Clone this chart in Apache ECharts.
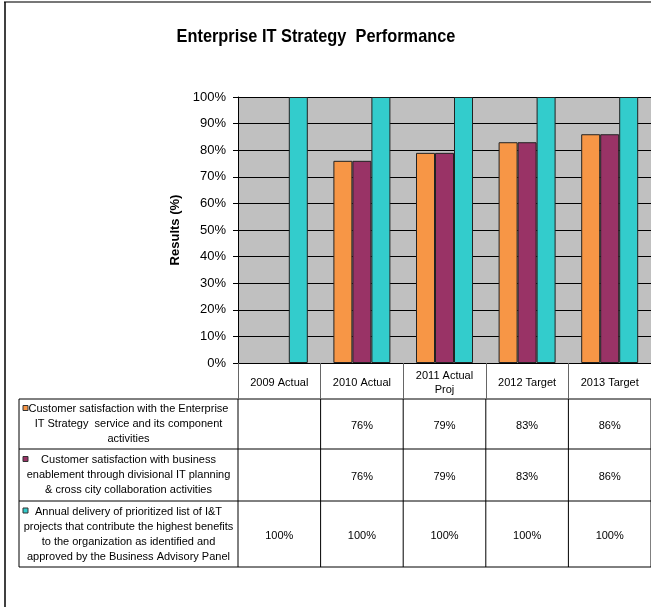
<!DOCTYPE html>
<html>
<head>
<meta charset="utf-8">
<script src="https://cdn.jsdelivr.net/npm/echarts@6/dist/echarts.min.js"></script>
<style>
  html, body { margin: 0; padding: 0; background: #fff; }
  #chart { width: 651px; height: 607px; }
</style>
</head>
<body>
<div id="chart"></div>
<script>
// categories (x axis / table header)
const categories = ['2009 Actual', '2010 Actual', '2011 Actual\nProj', '2012 Target', '2013 Target'];
// series names as shown in the data table rows
const seriesNames = [
  'Customer satisfaction with the Enterprise\nIT Strategy  service and its component\nactivities',
  'Customer satisfaction with business\nenablement through divisional IT planning\n& cross city collaboration activities',
  'Annual delivery of prioritized list of I&T\nprojects that contribute the highest benefits\nto the organization as identified and\napproved by the Business Advisory Panel'
];
// values in %
const serviceSat = [null, 76, 79, 83, 86];
const businessSat = [null, 76, 79, 83, 86];
const annualDelivery = [100, 100, 100, 100, 100];

const colors = ['#F79646', '#993366', '#33CCCC'];
const allSeries = [serviceSat, businessSat, annualDelivery];
const FONT = 'Liberation Sans, Arial, sans-serif';

let myChart = echarts.init(document.getElementById('chart'));

const barStyle = function (c) {
  return { color: c, borderColor: '#222', borderWidth: 1 };
};

myChart.setOption({
  animation: false,
  grid: {
    left: 238,
    top: 97,
    width: 423,
    height: 266,
    show: true,
    backgroundColor: '#C0C0C0',
    borderWidth: 0
  },
  xAxis: {
    type: 'category',
    data: categories,
    axisLine: { show: true, lineStyle: { color: '#000', width: 1 } },
    axisTick: { show: true, length: 36, lineStyle: { color: '#666' } },
    axisLabel: {
      color: '#000',
      fontFamily: FONT,
      fontSize: 11,
      lineHeight: 14,
      margin: 20,
      verticalAlign: 'middle',
      interval: 0
    },
    splitLine: { show: false }
  },
  yAxis: {
    type: 'value',
    min: 0,
    max: 100,
    interval: 10,
    name: 'Results (%)',
    nameLocation: 'middle',
    nameGap: 55,
    nameRotate: 90,
    nameTextStyle: { fontFamily: FONT, fontWeight: 'bold', fontSize: 13, color: '#000' },
    axisLine: { show: true, lineStyle: { color: '#000', width: 1 } },
    axisTick: { show: true, length: 5, lineStyle: { color: '#000' } },
    axisLabel: {
      formatter: '{value}%',
      color: '#000',
      fontFamily: FONT,
      fontSize: 13,
      margin: 12
    },
    splitLine: { show: true, lineStyle: { color: '#000', width: 1 } }
  },
  series: allSeries.map(function (d, i) {
    return {
      name: 'S' + i,
      type: 'bar',
      data: d,
      barWidth: 19,
      barGap: '0%',
      itemStyle: barStyle(colors[i])
    };
  })
});

// data table below the plot, placed from the category axis positions
const c0 = myChart.convertToPixel({ xAxisIndex: 0 }, 0);
const c1 = myChart.convertToPixel({ xAxisIndex: 0 }, 1);
const half = (c1 - c0) / 2;
const tableLeft = 19;
const rowTops = [399, 449, 501, 567];
const gridLeft = c0 - half;
const gridRight = myChart.convertToPixel({ xAxisIndex: 0 }, categories.length - 1) + half;

let g = [];
// frame
g.push({ type: 'line', shape: { x1: 4, y1: 2, x2: 651, y2: 2 }, style: { stroke: '#777', lineWidth: 2 } });
g.push({ type: 'line', shape: { x1: 5, y1: 2, x2: 5, y2: 607 }, style: { stroke: '#000', lineWidth: 1.5 } });
// title
g.push({
  type: 'text', x: 316, y: 37, scaleX: 0.86,
  style: { text: 'Enterprise IT Strategy  Performance', fontFamily: FONT, fontWeight: 'bold', fontSize: 19,
    fill: '#000', align: 'center', verticalAlign: 'middle' }
});
// horizontal lines
rowTops.forEach(function (y) {
  g.push({ type: 'line', shape: { x1: tableLeft, y1: y, x2: gridRight, y2: y }, style: { stroke: '#000', lineWidth: 1 } });
});
// vertical lines
let xs = [tableLeft];
for (let i = 0; i <= categories.length; i++) xs.push(gridLeft + i * 2 * half);
xs.forEach(function (x) {
  g.push({ type: 'line', shape: { x1: x, y1: rowTops[0], x2: x, y2: rowTops[3] }, style: { stroke: '#000', lineWidth: 1 } });
});
// row labels, legend keys and values
allSeries.forEach(function (d, r) {
  const top = rowTops[r], bot = rowTops[r + 1];
  const mid = (top + bot) / 2;
  g.push({
    type: 'text', x: (tableLeft + gridLeft) / 2, y: mid,
    style: { text: seriesNames[r], fontFamily: FONT, fontSize: 11, lineHeight: 15, fill: '#000',
      align: 'center', verticalAlign: 'middle' }
  });
  const nLines = seriesNames[r].split('\n').length;
  const keyY = mid - nLines * 15 / 2 + 4;
  g.push({ type: 'rect', shape: { x: 23, y: keyY, width: 5, height: 5 },
    style: { fill: colors[r], stroke: '#333', lineWidth: 1 } });
  d.forEach(function (v, i) {
    if (v == null) return;
    g.push({
      type: 'text', x: myChart.convertToPixel({ xAxisIndex: 0 }, i), y: mid + 2,
      style: { text: v + '%', fontFamily: FONT, fontSize: 11, fill: '#000', align: 'center', verticalAlign: 'middle' }
    });
  });
});

myChart.setOption({ graphic: g });
</script>
</body>
</html>
